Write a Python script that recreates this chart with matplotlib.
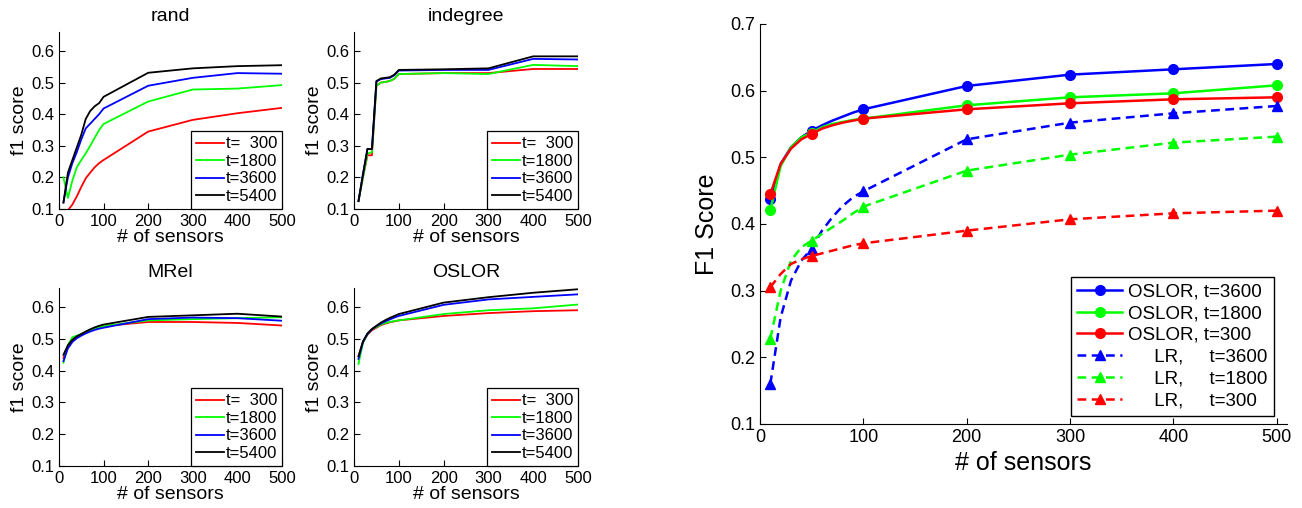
"""
Sensor-count sweep: F1 score per ranking method (left grid) and
OSLOR vs. LR comparison (right panel).
"""

import matplotlib
matplotlib.use("Agg")
import matplotlib.pyplot as plt

plt.rcParams["font.family"] = ["Liberation Sans", "DejaVu Sans"]

# ── Data ──────────────────────────────────────────────────────────────────────
SENSORS = [10, 20, 30, 40, 50, 60, 70, 80, 90, 100, 200, 300, 400, 500]
HORIZONS = ["t=  300", "t=1800", "t=3600", "t=5400"]

RAND_300 = [0.08, 0.096, 0.114, 0.14, 0.17, 0.197, 0.215, 0.232, 0.245, 0.255, 0.345, 0.382, 0.403, 0.42]
RAND_1800 = [0.20, 0.135, 0.19, 0.232, 0.255, 0.276, 0.30, 0.325, 0.35, 0.369, 0.44, 0.478, 0.481, 0.492]
RAND_3600 = [0.121, 0.20, 0.245, 0.28, 0.32, 0.355, 0.37, 0.385, 0.40, 0.418, 0.49, 0.515, 0.53, 0.528]
RAND_5400 = [0.12, 0.215, 0.255, 0.295, 0.335, 0.385, 0.41, 0.425, 0.435, 0.455, 0.531, 0.545, 0.552, 0.555]

INDEG_300 = [0.125, 0.20, 0.27, 0.27, 0.49, 0.50, 0.502, 0.505, 0.512, 0.527, 0.53, 0.53, 0.543, 0.543]
INDEG_1800 = [0.125, 0.20, 0.275, 0.28, 0.49, 0.50, 0.502, 0.505, 0.512, 0.527, 0.53, 0.527, 0.556, 0.552]
INDEG_3600 = [0.125, 0.21, 0.29, 0.29, 0.503, 0.511, 0.513, 0.515, 0.523, 0.538, 0.54, 0.54, 0.575, 0.573]
INDEG_5400 = [0.125, 0.21, 0.29, 0.29, 0.505, 0.513, 0.515, 0.517, 0.525, 0.54, 0.542, 0.545, 0.583, 0.583]

MREL_300 = [0.44, 0.475, 0.495, 0.507, 0.515, 0.522, 0.528, 0.533, 0.537, 0.54, 0.553, 0.553, 0.55, 0.542]
MREL_1800 = [0.425, 0.48, 0.505, 0.51, 0.515, 0.522, 0.528, 0.532, 0.536, 0.54, 0.558, 0.562, 0.565, 0.568]
MREL_3600 = [0.43, 0.47, 0.49, 0.502, 0.51, 0.517, 0.523, 0.528, 0.532, 0.535, 0.562, 0.567, 0.565, 0.557]
MREL_5400 = [0.45, 0.48, 0.497, 0.508, 0.515, 0.523, 0.53, 0.536, 0.541, 0.545, 0.569, 0.574, 0.579, 0.57]

OSLOR_300 = [0.445, 0.49, 0.513, 0.527, 0.535, 0.543, 0.548, 0.552, 0.555, 0.558, 0.572, 0.581, 0.587, 0.59]
OSLOR_1800 = [0.421, 0.487, 0.515, 0.53, 0.537, 0.545, 0.55, 0.553, 0.556, 0.558, 0.578, 0.59, 0.596, 0.608]
OSLOR_3600 = [0.437, 0.49, 0.515, 0.53, 0.54, 0.548, 0.555, 0.561, 0.567, 0.572, 0.607, 0.624, 0.632, 0.64]
OSLOR_5400 = [0.445, 0.492, 0.517, 0.531, 0.541, 0.551, 0.559, 0.566, 0.572, 0.578, 0.614, 0.631, 0.645, 0.656]

LR_300 = [0.305, 0.325, 0.34, 0.347, 0.352, 0.356, 0.36, 0.364, 0.368, 0.371, 0.39, 0.407, 0.416, 0.42]
LR_1800 = [0.228, 0.30, 0.345, 0.365, 0.375, 0.385, 0.395, 0.405, 0.416, 0.426, 0.48, 0.504, 0.522, 0.531]
LR_3600 = [0.16, 0.26, 0.315, 0.345, 0.363, 0.39, 0.41, 0.427, 0.44, 0.449, 0.527, 0.552, 0.566, 0.577]

PANELS = [
    ("rand", [RAND_300, RAND_1800, RAND_3600, RAND_5400]),
    ("indegree", [INDEG_300, INDEG_1800, INDEG_3600, INDEG_5400]),
    ("MRel", [MREL_300, MREL_1800, MREL_3600, MREL_5400]),
    ("OSLOR", [OSLOR_300, OSLOR_1800, OSLOR_3600, OSLOR_5400]),
]

# ── Style ─────────────────────────────────────────────────────────────────────
COLORS = ["#ff0000", "#00ff00", "#0000ff", "#000000"]
MARK_IDX = [0, 4, 9, 10, 11, 12, 13]   # marker at 10, 50, 100, 200 ... 500

# [left, bottom, width, height] in figure fractions
PANEL_POS = [
    [0.0453, 0.5886, 0.1713, 0.3484],
    [0.2719, 0.5886, 0.1720, 0.3484],
    [0.0453, 0.0827, 0.1713, 0.3504],
    [0.2719, 0.0827, 0.1720, 0.3504],
]
MAIN_POS = [0.5837, 0.1654, 0.4048, 0.7874]


def _style_axes(ax, labelsize):
    ax.spines["top"].set_visible(False)
    ax.spines["right"].set_visible(False)
    ax.tick_params(direction="in", length=4, width=0.8, labelsize=labelsize)


def _draw_panel(ax, title, series):
    for ys, col, lab in zip(series, COLORS, HORIZONS):
        ax.plot(SENSORS, ys, color=col, lw=1.3, label=lab)
    ax.set_xlim(0, 500)
    ax.set_ylim(0.1, 0.66)
    ax.set_xticks(range(0, 501, 100))
    ax.set_yticks([0.1, 0.2, 0.3, 0.4, 0.5, 0.6])
    _style_axes(ax, 12)
    ax.set_title(title, fontsize=14, pad=8)
    ax.set_xlabel("# of sensors", fontsize=14, labelpad=0)
    ax.set_ylabel("f1 score", fontsize=14, labelpad=2)
    leg = ax.legend(loc="lower right", fontsize=12, borderaxespad=0,
                    handlelength=1.7, handletextpad=0.1, labelspacing=0.15,
                    borderpad=0.3, fancybox=False, framealpha=1)
    leg.get_frame().set_edgecolor("black")
    leg.get_frame().set_linewidth(0.9)


def _draw_main(ax):
    solid = [(OSLOR_3600, COLORS[2], "OSLOR, t=3600"),
             (OSLOR_1800, COLORS[1], "OSLOR, t=1800"),
             (OSLOR_300, COLORS[0], "OSLOR, t=300")]
    dashed = [(LR_3600, COLORS[2], "     LR,     t=3600"),
              (LR_1800, COLORS[1], "     LR,     t=1800"),
              (LR_300, COLORS[0], "     LR,     t=300")]
    for ys, col, lab in solid:
        ax.plot(SENSORS, ys, color=col, lw=1.8, marker="o", ms=7,
                markevery=MARK_IDX, label=lab)
    for ys, col, lab in dashed:
        ax.plot(SENSORS, ys, color=col, lw=1.8, ls=(0, (3.5, 2.2)), marker="^",
                ms=7.5, markevery=MARK_IDX, label=lab)
    ax.set_xlim(0, 510)
    ax.set_ylim(0.1, 0.7)
    ax.set_xticks(range(0, 501, 100))
    ax.set_yticks([0.1, 0.2, 0.3, 0.4, 0.5, 0.6, 0.7])
    _style_axes(ax, 13)
    ax.set_xlabel("# of sensors", fontsize=18, labelpad=4)
    ax.set_ylabel("F1 Score", fontsize=18, labelpad=8)
    leg = ax.legend(loc="lower right", bbox_to_anchor=(0.975, 0.02),
                    borderaxespad=0, fontsize=13.5, handlelength=2.4,
                    handletextpad=0.3, labelspacing=0.25, borderpad=0.35,
                    fancybox=False, framealpha=1)
    leg.get_frame().set_edgecolor("black")
    leg.get_frame().set_linewidth(1.0)


def main():
    fig = plt.figure(figsize=(13.02, 5.08), dpi=100)
    for pos, (title, series) in zip(PANEL_POS, PANELS):
        _draw_panel(fig.add_axes(pos), title, series)
    _draw_main(fig.add_axes(MAIN_POS))
    fig.savefig("out.png", dpi=100)


if __name__ == "__main__":
    main()
